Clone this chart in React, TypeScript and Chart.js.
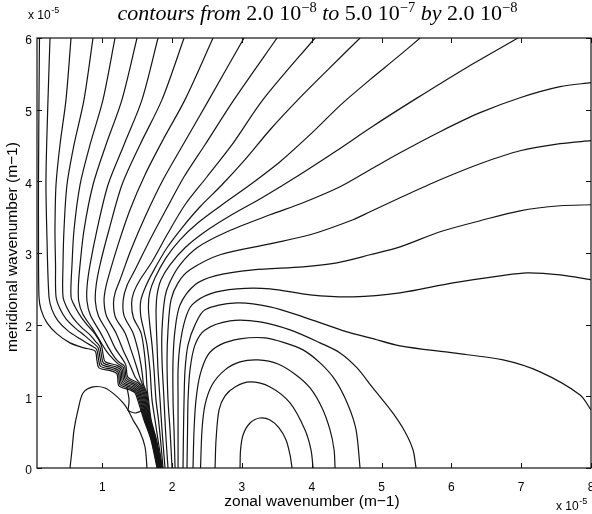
import React, { useEffect, useRef } from "react";
import { Chart, registerables } from "chart.js";

Chart.register(...registerables);

// Axis extents (units of 1e-5 m^-1)
const X_MIN = 0.0645;
const X_MAX = 8;
const Y_MIN = 0;
const Y_MAX = 6;

const xTicks = [1, 2, 3, 4, 5, 6, 7, 8];
const xTickLabels = ["1", "2", "3", "4", "5", "6", "7", "8"];
const yTicks = [0, 1, 2, 3, 4, 5, 6];
const yTickLabels = ["0", "1", "2", "3", "4", "5", "6"];

const titleParts: [string, "it" | "rm" | "sup"][] = [
  ["contours from ", "it"],
  ["2.0 10", "rm"],
  ["\u22128", "sup"],
  [" to ", "it"],
  ["5.0 10", "rm"],
  ["\u22127", "sup"],
  [" by ", "it"],
  ["2.0 10", "rm"],
  ["\u22128", "sup"],
];
const xAxisTitle = "zonal wavenumber (m\u22121)";
const yAxisTitle = "meridional wavenumber (m\u22121)";

// Contours that leave through the top edge and fold into the steep band near k = 1.8
const c01 = [[0.10,6.0],[0.093,5.14],[0.086,4.02],[0.086,3.18],[0.093,2.39],[0.122,2.21],[0.208,2.025],[0.351,1.871],[0.537,1.746],[0.738,1.676],[0.895,1.634],[0.924,1.494],[0.953,1.397],[1.125,1.355],[1.211,1.313],[1.239,1.145],[1.397,1.089],[1.469,1.047],[1.511,0.936],[1.597,0.670],[1.698,0.391],[1.784,0]];
const c02 = [[0.251,6.0],[0.222,5.14],[0.193,4.02],[0.208,3.18],[0.236,2.39],[0.279,2.21],[0.365,2.053],[0.509,1.913],[0.681,1.802],[0.824,1.718],[0.918,1.656],[0.946,1.516],[0.975,1.418],[1.145,1.374],[1.229,1.330],[1.257,1.163],[1.412,1.104],[1.481,1.059],[1.524,0.948],[1.607,0.670],[1.705,0.391],[1.790,0]];
const c03 = [[0.552,6.0],[0.480,5.14],[0.394,4.511],[0.337,3.952],[0.322,3.324],[0.330,2.835],[0.337,2.39],[0.394,2.221],[0.480,2.081],[0.609,1.955],[0.752,1.844],[0.867,1.746],[0.940,1.677],[0.968,1.537],[0.997,1.440],[1.165,1.394],[1.247,1.348],[1.275,1.180],[1.427,1.119],[1.493,1.071],[1.536,0.960],[1.616,0.670],[1.712,0.391],[1.797,0]];
const c04 = [[0.867,6.0],[0.738,5.14],[0.595,4.511],[0.494,3.952],[0.451,3.324],[0.437,2.835],[0.437,2.39],[0.494,2.235],[0.580,2.095],[0.695,1.969],[0.824,1.857],[0.895,1.774],[0.962,1.699],[0.990,1.559],[1.019,1.461],[1.185,1.413],[1.265,1.366],[1.293,1.198],[1.442,1.133],[1.505,1.083],[1.548,0.971],[1.625,0.670],[1.719,0.391],[1.803,0]];
const c05 = [[1.182,6.0],[1.010,5.14],[0.824,4.511],[0.681,3.952],[0.595,3.324],[0.566,2.835],[0.552,2.39],[0.609,2.249],[0.695,2.109],[0.795,1.983],[0.895,1.871],[0.984,1.720],[1.012,1.580],[1.041,1.483],[1.205,1.433],[1.283,1.383],[1.312,1.216],[1.457,1.148],[1.517,1.095],[1.560,0.983],[1.635,0.670],[1.726,0.391],[1.810,0]];
const c06 = [[1.497,6.0],[1.282,5.14],[1.053,4.511],[0.867,3.952],[0.738,3.324],[0.681,2.835],[0.658,2.55],[0.662,2.33],[0.720,2.15],[0.852,1.955],[0.967,1.774],[1.067,1.620],[1.153,1.522],[1.225,1.453],[1.301,1.401],[1.330,1.233],[1.472,1.163],[1.529,1.107],[1.572,0.995],[1.644,0.670],[1.734,0.391],[1.816,0]];
const c07 = [[1.798,6.0],[1.569,5.14],[1.311,4.511],[1.082,3.952],[0.924,3.324],[0.824,2.835],[0.783,2.55],[0.780,2.33],[0.830,2.13],[0.967,1.899],[1.082,1.690],[1.182,1.536],[1.245,1.472],[1.319,1.418],[1.348,1.251],[1.487,1.177],[1.542,1.119],[1.585,1.007],[1.653,0.670],[1.741,0.391],[1.822,0]];
const c08 = [[2.171,6.0],[1.855,5.14],[1.540,4.511],[1.282,3.952],[1.096,3.324],[0.967,2.835],[0.912,2.55],[0.900,2.33],[0.945,2.12],[1.082,1.885],[1.182,1.676],[1.268,1.550],[1.337,1.436],[1.366,1.268],[1.502,1.192],[1.554,1.131],[1.597,1.019],[1.663,0.670],[1.748,0.391],[1.829,0]];
const c09 = [[2.586,6.0],[2.185,5.14],[1.870,4.581],[1.612,4.092],[1.397,3.603],[1.225,3.114],[1.096,2.695],[1.045,2.50],[1.025,2.33],[1.060,2.12],[1.196,1.885],[1.297,1.648],[1.397,1.438],[1.469,1.271],[1.517,1.207],[1.566,1.142],[1.609,1.031],[1.672,0.670],[1.755,0.391],[1.835,0]];
const c10 = [[3.030,6.0],[2.528,5.14],[2.156,4.511],[1.870,4.022],[1.626,3.533],[1.411,3.045],[1.254,2.626],[1.185,2.45],[1.160,2.30],[1.190,2.10],[1.325,1.885],[1.411,1.648],[1.483,1.438],[1.526,1.299],[1.578,1.154],[1.621,1.043],[1.681,0.670],[1.762,0.391],[1.842,0]];
const c11 = [[3.503,6.0],[2.887,5.14],[2.471,4.511],[2.171,4.064],[1.912,3.603],[1.683,3.184],[1.469,2.765],[1.355,2.55],[1.300,2.35],[1.310,2.13],[1.440,1.885],[1.511,1.648],[1.554,1.438],[1.576,1.285],[1.590,1.166],[1.633,1.054],[1.691,0.670],[1.769,0.391],[1.848,0]];
const c12 = [[4.047,6.0],[3.302,5.14],[2.858,4.511],[2.500,4.064],[2.185,3.673],[1.927,3.254],[1.712,2.877],[1.540,2.626],[1.450,2.45],[1.420,2.30],[1.445,2.10],[1.554,1.885],[1.597,1.648],[1.626,1.369],[1.638,1.159],[1.646,1.067],[1.662,0.950],[1.700,0.670],[1.777,0.391],[1.855,0]];
const c13 = [[4.692,6.0],[4.233,5.559],[3.804,5.14],[3.403,4.720],[3.044,4.302],[2.715,3.952],[2.400,3.645],[2.142,3.352],[1.927,3.073],[1.741,2.765],[1.615,2.52],[1.550,2.33],[1.550,2.13],[1.600,1.90],[1.640,1.718],[1.683,1.369],[1.712,0.950],[1.755,0.670],[1.798,0.391],[1.862,0]];
const c14 = [[5.552,6.0],[5.236,5.740],[4.835,5.419],[4.434,5.084],[3.976,4.651],[3.546,4.274],[3.116,3.952],[2.715,3.673],[2.371,3.422],[2.113,3.184],[1.912,2.933],[1.755,2.654],[1.680,2.45],[1.660,2.25],[1.680,2.00],[1.712,1.718],[1.741,1.369],[1.769,0.950],[1.805,0.670],[1.834,0.391],[1.870,0]];
const c15 = [[6.955,6.0],[6.239,5.600],[5.494,5.154],[4.864,4.762],[4.334,4.413],[3.804,4.078],[3.288,3.771],[2.830,3.519],[2.471,3.296],[2.185,3.073],[1.970,2.835],[1.841,2.626],[1.785,2.42],[1.770,2.20],[1.775,1.95],[1.784,1.718],[1.798,1.369],[1.827,0.950],[1.855,0.531],[1.898,0]];

// Contours that leave through the right edge
const c16 = [[8.0,5.377],[7.557,5.321],[6.984,5.167],[6.411,4.958],[5.838,4.693],[5.265,4.399],[4.835,4.162],[4.405,3.924],[3.875,3.701],[3.403,3.533],[2.787,3.296],[2.357,3.073],[2.113,2.835],[1.970,2.598],[1.898,2.388],[1.855,1.927],[1.855,1.508],[1.884,0.950],[1.905,0.531],[1.941,0]];
const c17 = [[8.0,4.567],[7.557,4.525],[6.984,4.427],[6.411,4.246],[5.838,4.022],[5.265,3.771],[4.835,3.575],[4.592,3.464],[3.976,3.254],[3.403,3.128],[2.686,2.975],[2.256,2.765],[2.085,2.584],[1.984,2.346],[1.941,1.927],[1.927,1.508],[1.941,0.950],[1.970,0.531],[1.999,0]];
const c18 = [[8.0,3.673],[7.557,3.659],[6.984,3.589],[6.411,3.450],[5.838,3.296],[5.265,3.086],[4.835,2.975],[4.362,2.863],[3.875,2.807],[3.159,2.765],[2.615,2.681],[2.328,2.556],[2.113,2.276],[2.042,1.927],[2.013,1.508],[2.013,0.950],[2.027,0.531],[2.042,0]];
const c19 = [[8.0,2.626],[7.557,2.695],[7.085,2.723],[6.698,2.681],[6.024,2.584],[5.265,2.444],[4.592,2.388],[3.976,2.416],[3.403,2.500],[2.930,2.500],[2.543,2.430],[2.285,2.276],[2.185,2.067],[2.113,1.718],[2.085,1.369],[2.085,0.950],[2.085,0.531],[2.085,0]];
const c20 = [[8.0,0.810],[7.844,1.020],[7.271,1.341],[6.741,1.508],[6.024,1.606],[5.265,1.704],[4.835,1.816],[4.506,1.899],[3.875,2.109],[3.403,2.249],[2.930,2.304],[2.471,2.207],[2.328,1.997],[2.228,1.718],[2.185,1.369],[2.171,0.950],[2.163,0.531],[2.156,0]];

// Arches closing on the bottom edge around the maximum near k = 3.3e-5
const c21 = [[2.213,0],[2.221,0.531],[2.228,0.950],[2.256,1.369],[2.328,1.718],[2.471,1.927],[2.830,2.053],[3.259,2.039],[3.689,1.927],[4.119,1.746],[4.405,1.606],[4.649,1.397],[4.864,1.131],[5.150,0.782],[5.337,0.503],[5.451,0.251],[5.494,0]];
const c22 = [[2.299,0],[2.314,0.531],[2.342,0.950],[2.400,1.299],[2.514,1.578],[2.686,1.718],[2.973,1.802],[3.331,1.816],[3.617,1.746],[3.875,1.648],[4.119,1.466],[4.334,1.229],[4.520,0.880],[4.635,0.531],[4.692,0]];
const c23 = [[2.407,0],[2.428,0.531],[2.471,0.880],[2.572,1.159],[2.758,1.369],[2.973,1.480],[3.231,1.508],[3.517,1.452],[3.775,1.299],[3.976,1.117],[4.148,0.838],[4.262,0.531],[4.320,0.251],[4.334,0]];
const c24 = [[2.615,0],[2.629,0.391],[2.672,0.810],[2.758,1.006],[2.901,1.131],[3.116,1.201],[3.403,1.131],[3.689,0.908],[3.904,0.531],[3.990,0.251],[4.019,0]];
const c25 = [[2.973,0],[2.980,0.251],[3.016,0.461],[3.116,0.628],[3.259,0.698],[3.403,0.670],[3.531,0.559],[3.632,0.391],[3.689,0.182],[3.718,0]];

// Low-value arch at small wavenumbers and the short pieces joining it to the steps
const lowLoop = [[0.537,0],[0.566,0.251],[0.595,0.531],[0.652,0.810],[0.724,1.047],[0.867,1.131],[1.039,1.117],[1.182,1.020],[1.297,0.908],[1.368,0.810],[1.440,0.670],[1.540,0.503],[1.612,0.293],[1.640,0]];
const stepLinkA = [[1.354,1.117],[1.383,0.950],[1.368,0.796]];
const stepLinkB = [[1.368,0.796],[1.483,0.768],[1.612,0.824]];

const contourLines = [
  c01, c02, c03, c04, c05, c06, c07, c08, c09, c10, c11, c12, c13, c14, c15,
  c16, c17, c18, c19, c20, c21, c22, c23, c24, c25, lowLoop, stepLinkA, stepLinkB,
];

const SANS = "'Liberation Sans', Arial, Helvetica, sans-serif";
const SERIF = "'Liberation Serif', 'Times New Roman', serif";

const framePlugin = {
  id: "frameAndLabels",
  afterDatasetsDraw(chart: any) {
    const { ctx, chartArea: a, scales } = chart;
    const xs = scales.x;
    const ys = scales.y;
    ctx.save();

    // plot frame
    ctx.strokeStyle = "#111";
    ctx.lineWidth = 1.2;
    ctx.strokeRect(a.left, a.top, a.right - a.left, a.bottom - a.top);

    // inward tick marks on all four sides
    const tl = 5;
    ctx.lineWidth = 1;
    ctx.beginPath();
    xTicks.forEach((v) => {
      const px = Math.round(xs.getPixelForValue(v)) + 0.5;
      ctx.moveTo(px, a.bottom);
      ctx.lineTo(px, a.bottom - tl);
      ctx.moveTo(px, a.top);
      ctx.lineTo(px, a.top + tl);
    });
    yTicks.forEach((v) => {
      const py = Math.round(ys.getPixelForValue(v)) + 0.5;
      ctx.moveTo(a.left, py);
      ctx.lineTo(a.left + tl, py);
      ctx.moveTo(a.right, py);
      ctx.lineTo(a.right - tl, py);
    });
    ctx.stroke();

    ctx.fillStyle = "#000";

    // tick labels
    ctx.font = `12px ${SANS}`;
    ctx.textAlign = "center";
    ctx.textBaseline = "top";
    xTicks.forEach((v, i) => {
      ctx.fillText(xTickLabels[i], xs.getPixelForValue(v), a.bottom + 14);
    });
    ctx.textAlign = "right";
    ctx.textBaseline = "middle";
    yTicks.forEach((v, i) => {
      ctx.fillText(yTickLabels[i], a.left - 5, ys.getPixelForValue(v) + 3);
    });

    // exponent markers
    const drawExp = (x: number, y: number) => {
      ctx.textAlign = "left";
      ctx.textBaseline = "alphabetic";
      ctx.font = `12px ${SANS}`;
      ctx.fillText("x 10", x, y);
      const w = ctx.measureText("x 10").width;
      ctx.font = `9px ${SANS}`;
      ctx.fillText("-5", x + w + 0.5, y - 6);
    };
    drawExp(28, 19);
    drawExp(556, 510);

    // axis titles
    ctx.font = `15.5px ${SANS}`;
    ctx.textAlign = "center";
    ctx.textBaseline = "alphabetic";
    ctx.fillText(xAxisTitle, 312, 506);
    ctx.save();
    ctx.translate(13, 247);
    ctx.rotate(-Math.PI / 2);
    ctx.textBaseline = "middle";
    ctx.fillText(yAxisTitle, 0, 0);
    ctx.restore();

    // title with superscript exponents
    const fontFor = (k: string) =>
      k === "it" ? `italic 22px ${SERIF}` : k === "rm" ? `22px ${SERIF}` : `14.5px ${SERIF}`;
    let total = 0;
    titleParts.forEach(([s, k]) => {
      ctx.font = fontFor(k);
      total += ctx.measureText(s).width;
    });
    let x = 317.5 - total / 2;
    ctx.textAlign = "left";
    titleParts.forEach(([s, k]) => {
      ctx.font = fontFor(k);
      ctx.fillText(s, x, k === "sup" ? 12 : 20);
      x += ctx.measureText(s).width;
    });

    ctx.restore();
  },
};

export default function App() {
  const canvasRef = useRef<HTMLCanvasElement | null>(null);

  useEffect(() => {
    const canvas = canvasRef.current;
    if (!canvas) return;
    const chart = new Chart(canvas, {
      type: "scatter",
      data: {
        datasets: contourLines.map((line, i) => ({
          label: `contour ${i + 1}`,
          data: line.map(([x, y]) => ({ x, y })),
          showLine: true,
          borderColor: "#141414",
          borderWidth: 1.2,
          pointRadius: 0,
          pointHoverRadius: 0,
          tension: 0.3,
          fill: false,
        })),
      },
      options: {
        animation: false,
        responsive: false,
        devicePixelRatio: 1,
        events: [],
        layout: { padding: { left: 37, right: 1, top: 38, bottom: 46 } },
        scales: {
          x: { type: "linear", min: X_MIN, max: X_MAX, display: false },
          y: { type: "linear", min: Y_MIN, max: Y_MAX, display: false },
        },
        plugins: {
          legend: { display: false },
          tooltip: { enabled: false },
          title: { display: false },
        },
      },
      plugins: [framePlugin],
    });
    return () => chart.destroy();
  }, []);

  return (
    <div style={{ position: "fixed", left: 0, top: 0, width: 592, height: 514, background: "#fff" }}>
      <canvas ref={canvasRef} width={592} height={514} style={{ display: "block" }} />
    </div>
  );
}
